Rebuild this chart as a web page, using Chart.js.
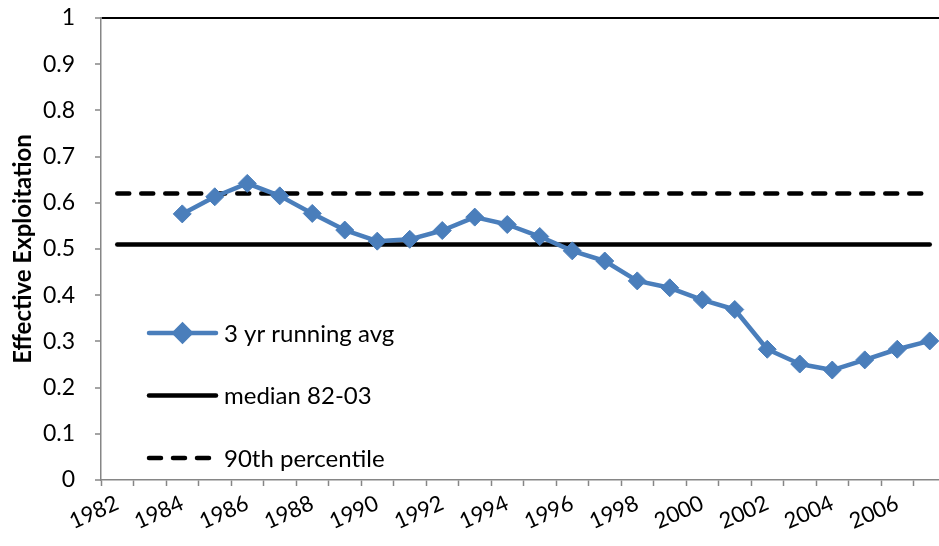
<!DOCTYPE html>
<html>
<head>
<meta charset="utf-8">
<script src="https://cdn.jsdelivr.net/npm/chart.js@4.4.1/dist/chart.umd.min.js"></script>
<style>
  html, body { margin: 0; padding: 0; background: #fff; overflow: hidden; }
  /* plot runs a bit past the window on the right, like the cropped original */
  #wrap { width: 946px; height: 546px; position: relative; }
</style>
</head>
<body>
<div id="wrap"><canvas id="chart" width="946" height="546"></canvas></div>
<script>
/* ============================
   DATA
============================ */

const years = ["1982","1983","1984","1985","1986","1987","1988","1989","1990","1991","1992","1993","1994",
               "1995","1996","1997","1998","1999","2000","2001","2002","2003","2004","2005","2006","2007"];

const runningAvg = [null, null, 0.576, 0.613, 0.642, 0.615, 0.577, 0.541, 0.517, 0.521, 0.540, 0.569, 0.553,
                    0.527, 0.496, 0.474, 0.431, 0.416, 0.390, 0.369, 0.283, 0.251, 0.238, 0.260, 0.283, 0.301];

const medianLine = [{ x: "1982", y: 0.51 }, { x: "2007", y: 0.51 }];
const pct90Line  = [{ x: "1982", y: 0.62 }, { x: "2007", y: 0.62 }];

const yTicks = [0, 0.1, 0.2, 0.3, 0.4, 0.5, 0.6, 0.7, 0.8, 0.9, 1];

const BLUE = "#4a7ebb";
const AXIS = "#868686";
const FONT = "Lato, 'Open Sans', sans-serif";

/* ============================
   LEGEND (inside plot, lower left)
============================ */

const insideLegend = {
  id: "insideLegend",
  afterDraw(chart){
    const { ctx, chartArea } = chart;
    const sets = chart.data.datasets;
    const x0 = chartArea.left + 46;
    const len = 71;

    ctx.save();
    sets.forEach((ds, i) => {
      const y = chartArea.bottom - 22 - (sets.length - 1 - i) * 62.5;

      ctx.beginPath();
      ctx.strokeStyle = ds.borderColor;
      ctx.lineWidth = ds.borderWidth;
      ctx.lineCap = "round";
      ctx.setLineDash(ds.borderDash || []);
      ctx.moveTo(x0 + 2, y);
      ctx.lineTo(x0 + len - 2, y);
      ctx.stroke();
      ctx.setLineDash([]);

      if(ds.pointRadius > 0){
        Chart.helpers.drawPoint(ctx, {
          pointStyle: ds.pointStyle,
          radius: ds.pointRadius - 1,
          borderWidth: 1
        }, x0 + len / 2, y);
        ctx.fillStyle = ds.pointBackgroundColor;
        ctx.fill();
      }

      ctx.fillStyle = "#000";
      ctx.font = "24px " + FONT;
      ctx.textAlign = "left";
      ctx.textBaseline = "middle";
      ctx.fillText(ds.label, x0 + len + 6, y + 1);
    });
    ctx.restore();
  }
};

/* ============================
   CHART
============================ */

new Chart(document.getElementById("chart"), {
  type: "line",
  data: {
    labels: years,
    datasets: [
      {
        label: "3 yr running avg",
        data: runningAvg,
        borderColor: BLUE,
        borderWidth: 4.5,
        borderJoinStyle: "round",
        pointStyle: "rectRot",
        pointRadius: 9,
        pointBackgroundColor: BLUE,
        pointBorderColor: BLUE,
        pointBorderWidth: 1,
        tension: 0
      },
      {
        label: "median 82-03",
        data: medianLine,
        borderColor: "#000",
        borderWidth: 4.5,
        borderCapStyle: "round",
        pointRadius: 0
      },
      {
        label: "90th percentile",
        data: pct90Line,
        borderColor: "#000",
        borderWidth: 4.5,
        borderDash: [12, 12],
        borderCapStyle: "round",
        pointRadius: 0
      }
    ]
  },
  options: {
    responsive: false,
    animation: false,
    layout: {
      autoPadding: false,
      padding: { top: 18, left: 0, right: 0, bottom: 0 }
    },
    plugins: {
      legend: { display: false },
      tooltip: { enabled: false }
    },
    scales: {
      x: {
        offset: true,
        afterFit(scale){
          scale.height = 66;
          scale.paddingLeft = 0;
          scale.paddingRight = 0;
        },
        grid: {
          offset: true,
          drawOnChartArea: false,
          tickLength: 6,
          tickColor: AXIS,
          tickWidth: 1.5
        },
        border: { color: AXIS, width: 1.5 },
        ticks: {
          autoSkip: false,
          minRotation: 24,
          maxRotation: 24,
          padding: 4,
          color: "#000",
          font: { family: FONT, size: 22 },
          callback(v, i){ return i % 2 === 0 ? years[i] : ""; }
        }
      },
      y: {
        min: 0,
        max: 1,
        afterFit(scale){
          scale.width = 101;
          scale.paddingTop = 0;
          scale.paddingBottom = 0;
        },
        afterBuildTicks(scale){ scale.ticks = yTicks.map(v => ({ value: v })); },
        grid: {
          color: c => (c.tick && c.tick.value === 1) ? "#000" : "rgba(0,0,0,0)",
          lineWidth: 2,
          tickLength: 6,
          tickColor: AXIS,
          tickWidth: 1.5
        },
        border: { color: AXIS, width: 1.5 },
        ticks: {
          padding: 20,
          color: "#000",
          font: { family: FONT, size: 23 },
          callback(v){ return String(parseFloat(v.toFixed(1))); }
        },
        title: {
          display: true,
          text: "Effective Exploitation",
          color: "#000",
          font: { family: FONT, size: 24, weight: "bold" },
          padding: { top: 9, bottom: 0 }
        }
      }
    }
  },
  plugins: [insideLegend]
});
</script>
</body>
</html>
